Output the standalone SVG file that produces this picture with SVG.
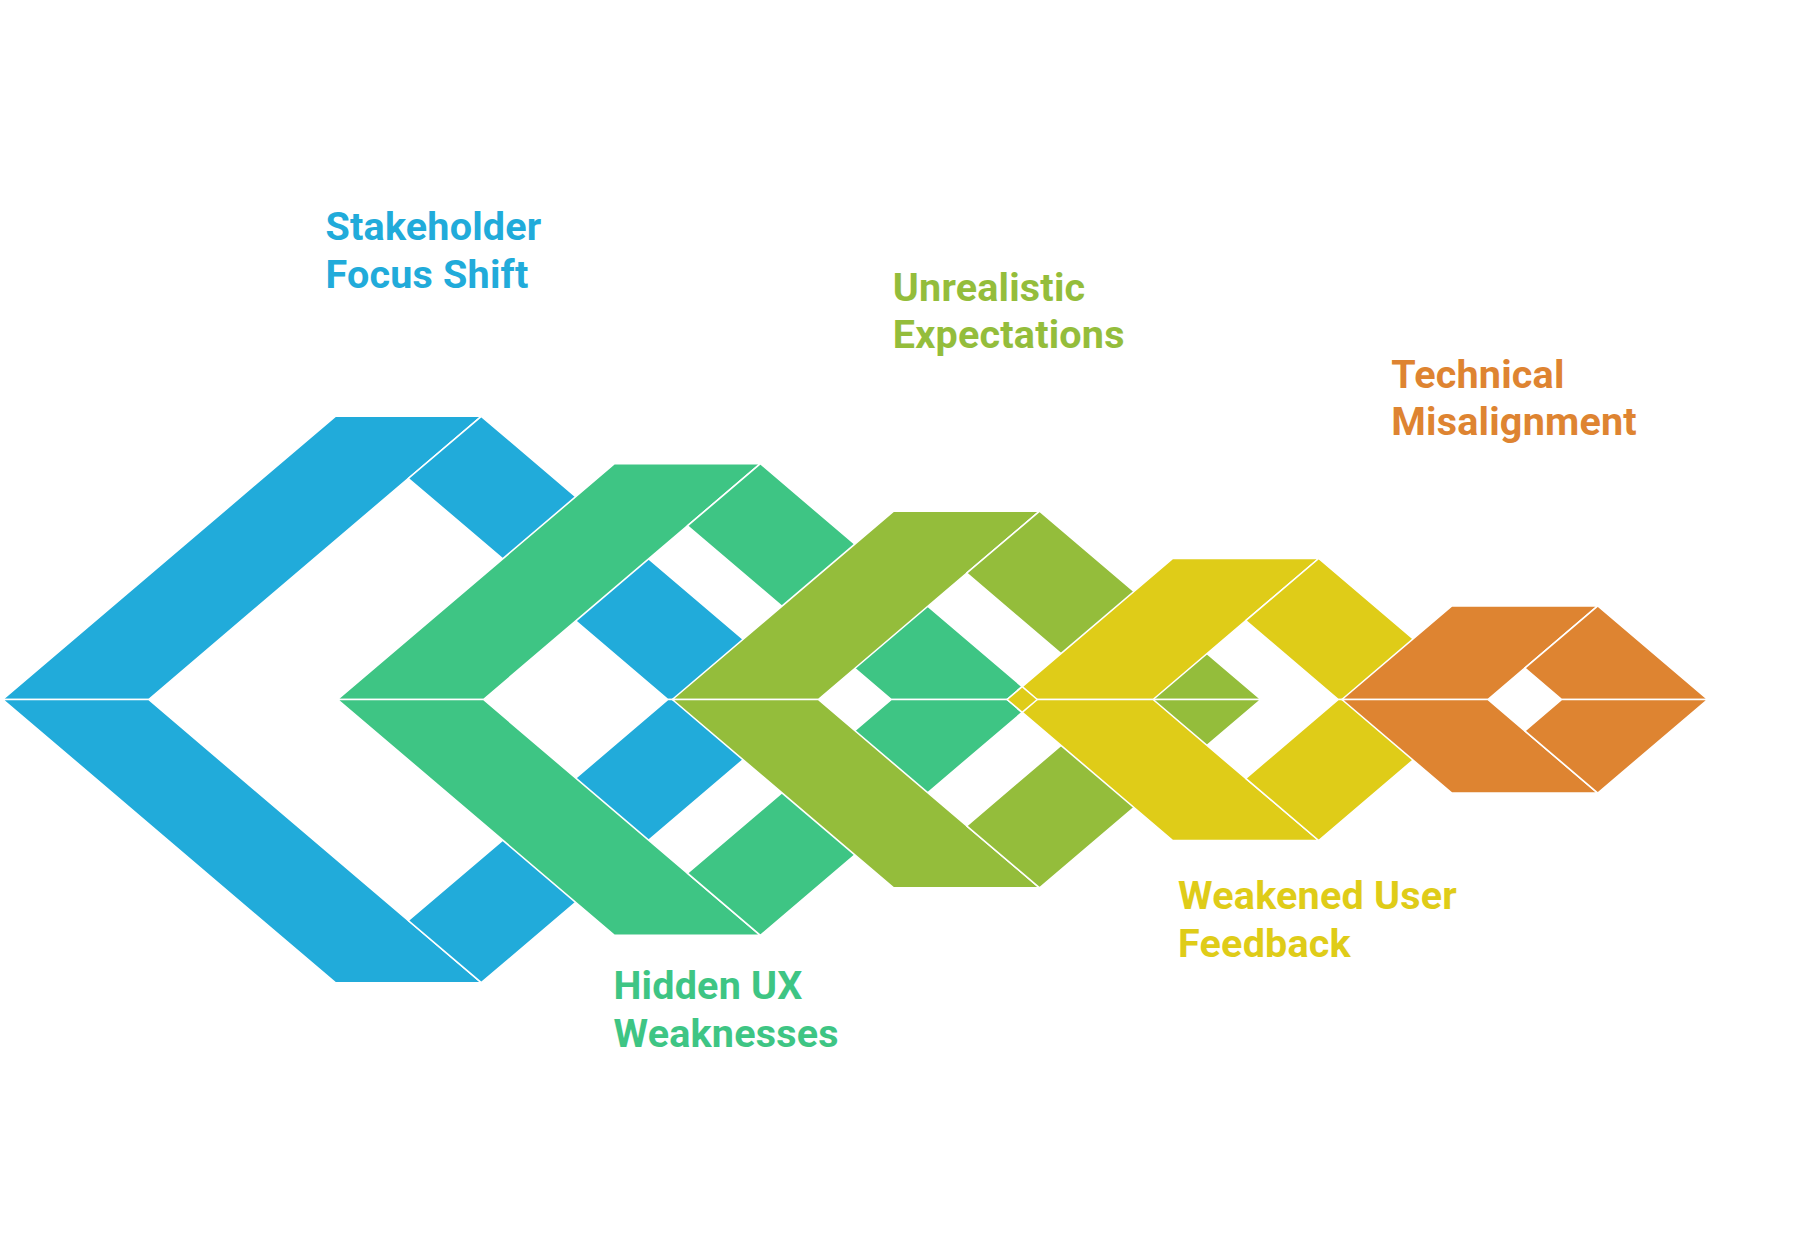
<svg xmlns="http://www.w3.org/2000/svg" width="1797" height="1243" viewBox="0 0 1797 1243">
<style>
.p{stroke:#fff;stroke-width:1.6;stroke-linejoin:round}
.b{fill:#21ABDA}.g{fill:#3EC584}.o{fill:#94BD3B}.y{fill:#DFCC18}.r{fill:#DE8431}
.t{font-family:Roboto,"Liberation Sans",sans-serif;font-weight:700;font-size:39.5px;letter-spacing:0.2px}
</style>
<rect width="1797" height="1243" fill="#fff"/>
<g id="ring-blue">
<polygon class="p b" points="2.7,699.5 335.3,416.3 481.3,416.3 148.7,699.5"/>
<polygon class="p b" points="481.3,416.3 813.9,699.5 667.9,699.5 408.3,478.5"/>
<polygon class="p b" points="2.7,699.5 335.3,982.7 481.3,982.7 148.7,699.5"/>
<polygon class="p b" points="481.3,982.7 813.9,699.5 667.9,699.5 408.3,920.5"/>
</g>
<g id="ring-green">
<polygon class="p g" points="337.5,699.5 614.4,463.7 760.4,463.7 483.5,699.5"/>
<polygon class="p g" points="760.4,463.7 1037.3,699.5 891.3,699.5 687.4,525.9"/>
<polygon class="p g" points="337.5,699.5 614.4,935.3 760.4,935.3 483.5,699.5"/>
<polygon class="p g" points="760.4,935.3 1037.3,699.5 891.3,699.5 687.4,873.1"/>
</g>
<g id="ring-olive">
<polygon class="p o" points="672.3,699.5 893.6,511.1 1039.6,511.1 818.3,699.5"/>
<polygon class="p o" points="1039.6,511.1 1260.9,699.5 1114.9,699.5 966.6,573.2"/>
<polygon class="p o" points="672.3,699.5 893.6,887.9 1039.6,887.9 818.3,699.5"/>
<polygon class="p o" points="1039.6,887.9 1260.9,699.5 1114.9,699.5 966.6,825.8"/>
</g>
<g id="ring-yellow">
<polygon class="p y" points="1007.1,699.5 1172.7,558.5 1318.7,558.5 1153.1,699.5"/>
<polygon class="p y" points="1318.7,558.5 1484.3,699.5 1338.3,699.5 1245.7,620.7"/>
<polygon class="p y" points="1007.1,699.5 1172.7,840.5 1318.7,840.5 1153.1,699.5"/>
<polygon class="p y" points="1318.7,840.5 1484.3,699.5 1338.3,699.5 1245.7,778.3"/>
<polygon class="p y" points="1007.1,699.5 1022.2,686.6 1037.3,699.5 1022.2,712.4"/>
</g>
<g id="ring-orange">
<polygon class="p r" points="1341.9,699.5 1451.8,605.9 1597.8,605.9 1487.9,699.5"/>
<polygon class="p r" points="1597.8,605.9 1707.7,699.5 1561.7,699.5 1524.8,668.1"/>
<polygon class="p r" points="1341.9,699.5 1451.8,793.1 1597.8,793.1 1487.9,699.5"/>
<polygon class="p r" points="1597.8,793.1 1707.7,699.5 1561.7,699.5 1524.8,730.9"/>
</g>
<g id="connectors"></g>
<g id="label-stakeholder"><text class="t" fill="#21ABDA"><tspan x="325.5" y="240">Stakeholder</tspan><tspan x="325.5" y="288">Focus Shift</tspan></text></g>
<g id="label-unrealistic"><text class="t" fill="#94BD3B"><tspan x="892.8" y="301">Unrealistic</tspan><tspan x="892.8" y="348">Expectations</tspan></text></g>
<g id="label-technical"><text class="t" fill="#DE8431"><tspan x="1391.3" y="388">Technical</tspan><tspan x="1391.3" y="435">Misalignment</tspan></text></g>
<g id="label-hidden"><text class="t" fill="#3EC584"><tspan x="613.5" y="999">Hidden UX</tspan><tspan x="613.5" y="1047">Weaknesses</tspan></text></g>
<g id="label-weakened"><text class="t" fill="#DFCC18"><tspan x="1178.1" y="908.5">Weakened User</tspan><tspan x="1178.1" y="956.5">Feedback</tspan></text></g>
</svg>
